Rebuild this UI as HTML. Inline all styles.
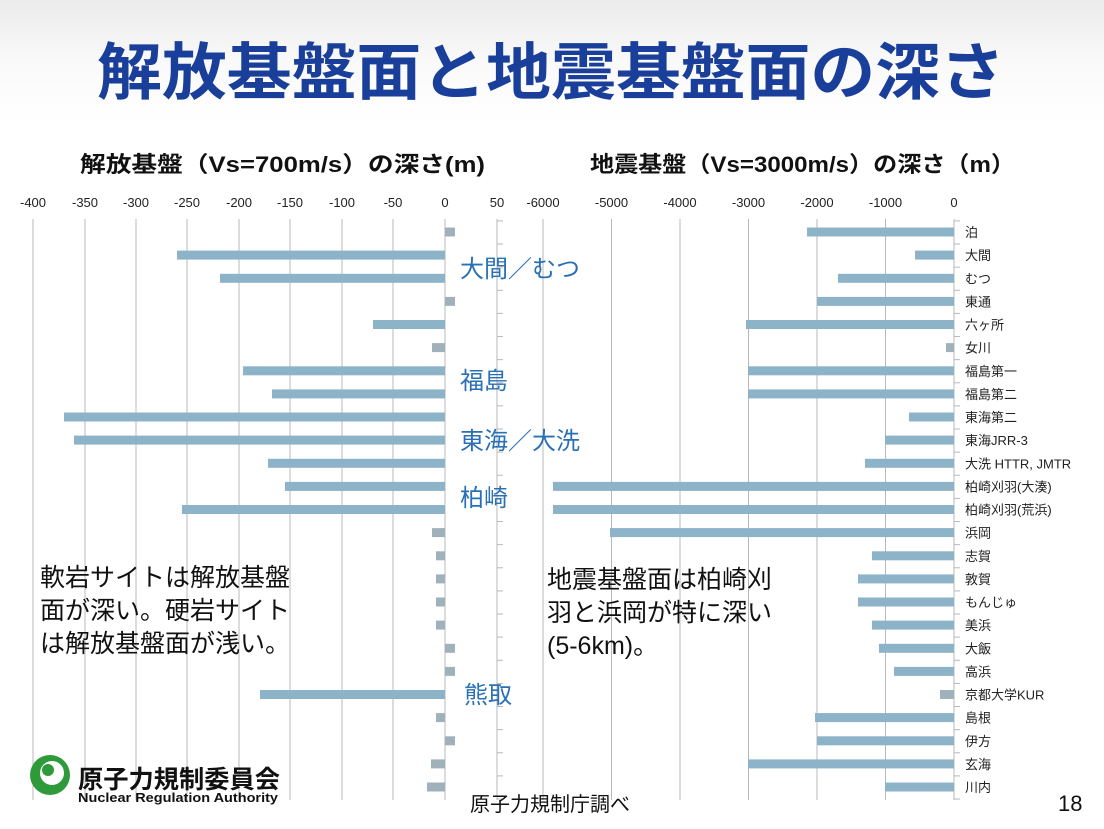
<!DOCTYPE html>
<html><head><meta charset="utf-8"><style>
html,body{margin:0;padding:0;background:#fff}
svg{display:block}
text{font-family:"Liberation Sans","Noto Sans CJK JP",sans-serif}
</style></head><body>
<svg width="1104" height="829" viewBox="0 0 1104 829" xmlns="http://www.w3.org/2000/svg">
<defs><linearGradient id="bg" x1="0" y1="0" x2="0" y2="1"><stop offset="0" stop-color="#ececec"/><stop offset="0.08" stop-color="#fafafa"/><stop offset="0.15" stop-color="#fff"/><stop offset="1" stop-color="#fff"/></linearGradient>
<pattern id="tk" x="0" y="220.4" width="6" height="23.125" patternUnits="userSpaceOnUse"><rect x="0" y="0" width="6" height="1" fill="#b8b8b8"/></pattern></defs>
<rect width="1104" height="829" fill="url(#bg)"/>
<text x="97" y="94" font-size="62" font-weight="bold" fill="#1a3f9a" textLength="908" lengthAdjust="spacingAndGlyphs">解放基盤面と地震基盤面の深さ</text>
<text x="80" y="172" font-size="22" font-weight="bold" fill="#111" textLength="405" lengthAdjust="spacingAndGlyphs">解放基盤（Vs=700m/s）の深さ(m)</text>
<text x="590" y="172" font-size="22" font-weight="bold" fill="#111" textLength="425" lengthAdjust="spacingAndGlyphs">地震基盤（Vs=3000m/s）の深さ（m）</text>
<g stroke="#b8b8b8" stroke-width="1">
<line x1="33" y1="219" x2="33" y2="800"/><line x1="85" y1="219" x2="85" y2="800"/><line x1="136" y1="219" x2="136" y2="800"/><line x1="187" y1="219" x2="187" y2="800"/><line x1="239" y1="219" x2="239" y2="800"/><line x1="290" y1="219" x2="290" y2="800"/><line x1="342" y1="219" x2="342" y2="800"/><line x1="393" y1="219" x2="393" y2="800"/><line x1="445" y1="219" x2="445" y2="800"/><line x1="497" y1="219" x2="497" y2="800"/>
<line x1="543" y1="219" x2="543" y2="800"/><line x1="611.5" y1="219" x2="611.5" y2="800"/><line x1="680" y1="219" x2="680" y2="800"/><line x1="748.5" y1="219" x2="748.5" y2="800"/><line x1="817" y1="219" x2="817" y2="800"/><line x1="885.5" y1="219" x2="885.5" y2="800"/><line x1="954" y1="219" x2="954" y2="800"/>
</g>
<rect x="497" y="220" width="6" height="580" fill="url(#tk)"/>
<rect x="954" y="220" width="6" height="580" fill="url(#tk)"/>
<g font-size="13" fill="#222" text-anchor="middle">
<text x="33" y="207">-400</text><text x="85" y="207">-350</text><text x="136" y="207">-300</text><text x="187" y="207">-250</text><text x="239" y="207">-200</text><text x="290" y="207">-150</text><text x="342" y="207">-100</text><text x="393" y="207">-50</text><text x="445" y="207">0</text><text x="497" y="207">50</text>
<text x="543" y="207">-6000</text><text x="611.5" y="207">-5000</text><text x="680" y="207">-4000</text><text x="748.5" y="207">-3000</text><text x="817" y="207">-2000</text><text x="885.5" y="207">-1000</text><text x="954" y="207">0</text>
</g>
<g fill="#8cb3c8">
<rect x="445" y="227.5" width="10" height="9" fill="#9fb2bc"/>
<rect x="177" y="250.6" width="268" height="9"/>
<rect x="220" y="273.8" width="225" height="9"/>
<rect x="445" y="296.9" width="10" height="9" fill="#9fb2bc"/>
<rect x="373" y="320" width="72" height="9"/>
<rect x="432" y="343.1" width="13" height="9" fill="#9fb2bc"/>
<rect x="243" y="366.3" width="202" height="9"/>
<rect x="272" y="389.4" width="173" height="9"/>
<rect x="64" y="412.5" width="381" height="9"/>
<rect x="74" y="435.6" width="371" height="9"/>
<rect x="268" y="458.8" width="177" height="9"/>
<rect x="285" y="481.9" width="160" height="9"/>
<rect x="182" y="505" width="263" height="9"/>
<rect x="432" y="528.1" width="13" height="9" fill="#9fb2bc"/>
<rect x="436" y="551.3" width="9" height="9" fill="#9fb2bc"/>
<rect x="436" y="574.4" width="9" height="9" fill="#9fb2bc"/>
<rect x="436" y="597.5" width="9" height="9" fill="#9fb2bc"/>
<rect x="436" y="620.6" width="9" height="9" fill="#9fb2bc"/>
<rect x="445" y="643.8" width="10" height="9" fill="#9fb2bc"/>
<rect x="445" y="666.9" width="10" height="9" fill="#9fb2bc"/>
<rect x="260" y="690" width="185" height="9"/>
<rect x="436" y="713.1" width="9" height="9" fill="#9fb2bc"/>
<rect x="445" y="736.3" width="10" height="9" fill="#9fb2bc"/>
<rect x="431" y="759.4" width="14" height="9" fill="#9fb2bc"/>
<rect x="427" y="782.5" width="18" height="9" fill="#9fb2bc"/>

<rect x="807" y="227.5" width="147" height="9"/>
<rect x="915" y="250.6" width="39" height="9"/>
<rect x="838" y="273.8" width="116" height="9"/>
<rect x="817" y="296.9" width="137" height="9"/>
<rect x="746" y="320" width="208" height="9"/>
<rect x="946" y="343.1" width="8" height="9" fill="#9fb2bc"/>
<rect x="748" y="366.3" width="206" height="9"/>
<rect x="748" y="389.4" width="206" height="9"/>
<rect x="909" y="412.5" width="45" height="9"/>
<rect x="885" y="435.6" width="69" height="9"/>
<rect x="865" y="458.8" width="89" height="9"/>
<rect x="553" y="481.9" width="401" height="9"/>
<rect x="553" y="505" width="401" height="9"/>
<rect x="610" y="528.1" width="344" height="9"/>
<rect x="872" y="551.3" width="82" height="9"/>
<rect x="858" y="574.4" width="96" height="9"/>
<rect x="858" y="597.5" width="96" height="9"/>
<rect x="872" y="620.6" width="82" height="9"/>
<rect x="879" y="643.8" width="75" height="9"/>
<rect x="894" y="666.9" width="60" height="9"/>
<rect x="940" y="690" width="14" height="9" fill="#9fb2bc"/>
<rect x="815" y="713.1" width="139" height="9"/>
<rect x="817" y="736.3" width="137" height="9"/>
<rect x="748" y="759.4" width="206" height="9"/>
<rect x="885" y="782.5" width="69" height="9"/>
</g>
<g font-size="13" fill="#222">
<text x="965" y="237">泊</text><text x="965" y="260.1">大間</text><text x="965" y="283.3">むつ</text><text x="965" y="306.4">東通</text><text x="965" y="329.5">六ヶ所</text><text x="965" y="352.6">女川</text><text x="965" y="375.8">福島第一</text><text x="965" y="398.9">福島第二</text><text x="965" y="422">東海第二</text><text x="965" y="445.1">東海JRR-3</text><text x="965" y="468.3">大洗 HTTR, JMTR</text><text x="965" y="491.4">柏崎刈羽(大湊)</text><text x="965" y="514.5">柏崎刈羽(荒浜)</text><text x="965" y="537.6">浜岡</text><text x="965" y="560.8">志賀</text><text x="965" y="583.9">敦賀</text><text x="965" y="607">もんじゅ</text><text x="965" y="630.1">美浜</text><text x="965" y="653.3">大飯</text><text x="965" y="676.4">高浜</text><text x="965" y="699.5">京都大学KUR</text><text x="965" y="722.6">島根</text><text x="965" y="745.8">伊方</text><text x="965" y="768.9">玄海</text><text x="965" y="792">川内</text>
</g>
<g font-size="24" fill="#2a70b4">
<text x="460" y="277">大間／むつ</text><text x="460" y="389">福島</text><text x="460" y="449">東海／大洗</text><text x="460" y="506">柏崎</text><text x="464" y="703">熊取</text>
</g>
<g font-size="25" fill="#111">
<text x="40" y="586">軟岩サイトは解放基盤</text><text x="40" y="619">面が深い。硬岩サイト</text><text x="40" y="652">は解放基盤面が浅い。</text>
<text x="547" y="588">地震基盤面は柏崎刈</text><text x="547" y="621">羽と浜岡が特に深い</text><text x="547" y="654">(5-6km)。</text>
</g>
<text x="470" y="811" font-size="20" fill="#111">原子力規制庁調べ</text>
<text x="1058" y="811" font-size="22" fill="#111">18</text>
<circle cx="50" cy="775" r="20" fill="#2e9a3a"/>
<circle cx="52" cy="773" r="12" fill="#fff"/>
<circle cx="48" cy="770" r="6" fill="#2e9a3a"/>
<text x="78" y="788" font-size="25" font-weight="bold" fill="#111" textLength="202" lengthAdjust="spacingAndGlyphs">原子力規制委員会</text>
<text x="78" y="802" font-size="13" font-weight="bold" fill="#111" textLength="200" lengthAdjust="spacingAndGlyphs">Nuclear Regulation Authority</text>
</svg>
</body></html>
